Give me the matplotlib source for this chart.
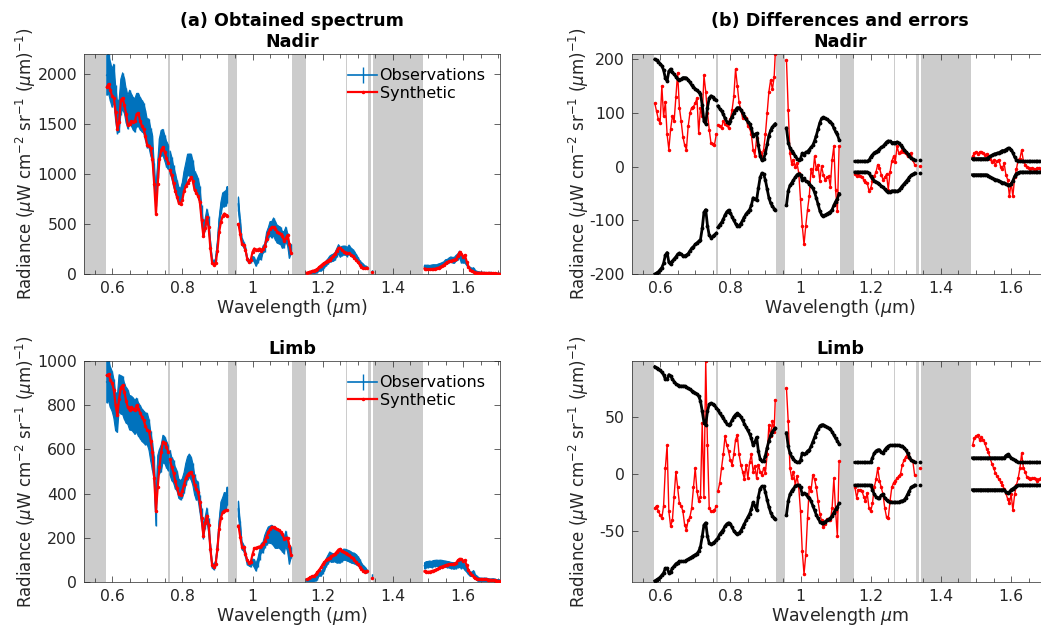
import numpy as np
import matplotlib
matplotlib.use("Agg")
import matplotlib.pyplot as plt
from matplotlib.ticker import MultipleLocator, FuncFormatter

nan = np.nan

# wavelength samples (um); nan marks the gaps between the fitted windows
wavelength = [
    0.585, 0.590, 0.595, 0.600, 0.605, 0.610, 0.615, 0.620, 0.625, 0.630,
    0.635, 0.640, 0.645, 0.650, 0.655, 0.660, 0.665, 0.670, 0.675, 0.680,
    0.685, 0.690, 0.695, 0.700, 0.705, 0.710, 0.715, 0.720, 0.725, 0.730,
    0.735, 0.740, 0.745, 0.750, 0.755, 0.760, nan,
    0.765, 0.770, 0.775, 0.780, 0.785, 0.790, 0.795, 0.800, 0.805, 0.810,
    0.815, 0.820, 0.825, 0.830, 0.835, 0.840, 0.845, 0.850, 0.855, 0.860,
    0.865, 0.870, 0.875, 0.880, 0.885, 0.890, 0.895, 0.900, 0.905, 0.910,
    0.915, 0.920, 0.925, 0.928, nan,
    0.960, 0.965, 0.970, 0.975, 0.980, 0.985, 0.990, 0.995, 1.000, 1.005,
    1.010, 1.015, 1.020, 1.025, 1.030, 1.035, 1.040, 1.045, 1.050, 1.055,
    1.060, 1.065, 1.070, 1.075, 1.080, 1.085, 1.090, 1.095, 1.100, 1.105,
    1.110, nan,
    1.155, 1.160, 1.165, 1.170, 1.175, 1.180, 1.185, 1.190, 1.195, 1.200,
    1.205, 1.210, 1.215, 1.220, 1.225, 1.230, 1.235, 1.240, 1.245, 1.250,
    1.255, 1.260, 1.265, 1.270, 1.275, 1.280, 1.285, 1.290, 1.295, 1.300,
    1.305, 1.310, 1.315, 1.320, 1.325, nan,
    1.340, nan,
    1.490, 1.495, 1.500, 1.505, 1.510, 1.515, 1.520, 1.525, 1.530, 1.535,
    1.540, 1.545, 1.550, 1.555, 1.560, 1.565, 1.570, 1.575, 1.580, 1.585,
    1.590, 1.595, 1.600, 1.605, 1.610, 1.615, 1.620, 1.625, 1.630, 1.635,
    1.640, 1.645, 1.650, 1.655, 1.660, 1.665, 1.670, 1.675, 1.680, 1.685,
    1.690, 1.695, 1.700, 1.705,
]

# Nadir: synthetic radiance, observation - synthetic, observation error
nadir_synth = [
    1870, 1900, 1840, 1780, 1760, 1620, 1450, 1520, 1740, 1760,
    1690, 1600, 1490, 1500, 1530, 1520, 1530, 1600, 1610, 1530,
    1480, 1450, 1380, 1290, 1280, 1260, 1150, 900, 600, 900,
    1150, 1240, 1270, 1220, 1160, 1110, nan,
    1040, 990, 910, 830, 770, 710, 700, 740, 830, 880,
    910, 940, 970, 930, 840, 810, 780, 720, 540, 380,
    460, 570, 470, 260, 110, 90, 110, 230, 420, 520,
    580, 605, 590, 585, nan,
    500, 400, 300, 290, 240, 150, 120, 140, 220, 255,
    245, 245, 255, 230, 250, 280, 350, 410, 450, 470,
    470, 450, 425, 410, 400, 380, 330, 360, 390, 300,
    210, nan,
    13, 18, 23, 30, 35, 42, 52, 70, 85, 100,
    112, 125, 135, 145, 160, 178, 200, 232, 262, 260,
    240, 225, 215, 210, 206, 195, 180, 162, 140, 118,
    95, 75, 62, 56, 62, nan,
    25, nan,
    55, 48, 46, 46, 48, 50, 52, 56, 62, 70,
    80, 92, 108, 118, 126, 132, 138, 142, 150, 185,
    220, 200, 172, 190, 125, 75, 45, 32, 22, 15,
    13, 12, 12, 11, 10, 10, 10, 10, 9, 8,
    7, 5, 4, 3,
]
nadir_diff = [
    118, 103, 88, 81, 150, 94, 120, 60, 32, 70,
    94, 85, 130, 175, 110, 85, 56, 40, 32, 75,
    100, 110, 112, 118, 128, 63, 109, 94, 170, 140,
    100, 69, 44, 42, 41, 60, nan,
    78, 75, 72, 85, 80, 78, 72, 88, 105, 131,
    182, 150, 120, 106, 91, 95, 91, 75, 72, 60,
    32, 20, 53, 40, 28, 20, 32, 60, 100, 140,
    162, 144, 168, 210, nan,
    199, 106, 25, 5, 13, 0, 7, -12, -60, -110,
    -145, -110, -80, -55, -5, -18, 19, -5, 4, -27,
    1, -15, -24, -20, -18, -37, 13, 38, -43, -83,
    38, nan,
    -14, -18, -15, -18, -20, -24, -28, -30, -45, -40,
    -27, -18, -10, 4, -2, -15, -24, -20, -14, -43,
    -10, 10, 19, 9, 38, 25, 28, 31, 28, 25,
    19, 22, 25, 13, 4, nan,
    2, nan,
    19, 25, 28, 24, 27, 28, 26, 22, 24, 19,
    15, 9, 12, 4, 10, 13, 0, -5, 7, -15,
    -24, -55, -30, -55, -20, -5, 13, 15, 31, 10,
    4, 0, -2, -4, -2, -5, -5, -3, -2, -4,
    -6, -5, -4, -5,
]
nadir_err = [
    200, 198, 196, 192, 188, 180, 165, 160, 178, 182,
    176, 172, 168, 163, 161, 163, 166, 166, 165, 162,
    157, 152, 149, 145, 142, 139, 136, 115, 85, 80,
    110, 128, 132, 130, 127, 124, nan,
    113, 108, 104, 98, 90, 84, 81, 86, 93, 100,
    106, 110, 110, 106, 100, 94, 88, 84, 80, 72,
    58, 60, 62, 40, 20, 12, 14, 25, 42, 58,
    68, 74, 78, 80, nan,
    72, 45, 35, 30, 25, 20, 15, 13, 15, 25,
    22, 27, 28, 32, 36, 40, 48, 58, 70, 82,
    90, 92, 90, 88, 86, 84, 80, 72, 65, 60,
    50, nan,
    10, 10, 10, 10, 10, 10, 10, 10, 12, 18,
    22, 26, 28, 30, 33, 36, 38, 42, 46, 48,
    47, 45, 45, 45, 46, 44, 40, 36, 32, 28,
    24, 20, 16, 14, 12, nan,
    12, nan,
    15, 15, 15, 15, 15, 15, 15, 15, 15, 17,
    19, 21, 23, 24, 25, 26, 28, 30, 30, 32,
    34, 34, 32, 26, 18, 13, 11, 10, 10, 10,
    10, 10, 10, 10, 10, 10, 10, 10, 10, 10,
    10, 10, 10, 10,
]

# Limb
limb_synth = [
    935, 940, 915, 900, 870, 800, 755, 830, 880, 890,
    860, 820, 790, 778, 790, 785, 778, 800, 785, 765,
    748, 732, 705, 688, 683, 640, 590, 470, 320, 430,
    520, 590, 635, 630, 610, 590, nan,
    555, 520, 495, 455, 425, 398, 395, 412, 440, 470,
    485, 492, 498, 480, 440, 420, 405, 360, 290, 210,
    265, 300, 260, 150, 75, 68, 80, 150, 240, 290,
    315, 322, 326, 325, nan,
    255, 205, 160, 158, 125, 100, 85, 90, 125, 152,
    155, 158, 160, 165, 172, 185, 205, 225, 238, 250,
    248, 243, 238, 235, 228, 218, 195, 200, 200, 165,
    122, nan,
    12, 16, 21, 25, 28, 34, 45, 55, 66, 80,
    90, 100, 106, 110, 116, 121, 128, 137, 147, 150,
    141, 136, 131, 126, 121, 115, 108, 99, 90, 80,
    70, 59, 52, 47, 50, nan,
    20, nan,
    48, 47, 46, 47, 49, 51, 54, 58, 62, 66,
    70, 73, 76, 78, 80, 80, 81, 83, 87, 98,
    105, 103, 96, 98, 75, 55, 40, 30, 24, 18,
    15, 12, 12, 12, 12, 12, 11, 10, 9, 9,
    8, 6, 5, 4,
]
limb_diff = [
    -30, -28, -33, -36, -39, -28, 5, 25, -33, -46,
    -41, -20, 2, -12, -26, -28, -33, -45, -49, -41,
    -38, -30, -12, 5, -15, -24, -20, 45, -20, 99,
    25, -30, -33, -33, -32, -28, nan,
    -15, -8, 5, 17, 33, 25, 20, 12, 8, 17,
    30, 34, 17, 8, 2, -5, 8, -4, 10, 17,
    2, 7, -4, 8, 2, -1, 5, 1, 17, 43,
    33, 46, 37, 65, nan,
    75, 46, 5, -4, 2, -10, -2, -12, -33, -68,
    -88, -71, -39, -12, -15, -1, -5, -12, -24, -35,
    -41, -47, -44, -40, -41, -41, -30, -4, -33, -55,
    11, nan,
    -12, -21, -14, -14, -15, -20, -24, -17, -30, -33,
    -26, -12, -5, 5, -6, -12, -18, -30, -38, -39,
    -24, -12, -8, -6, -4, -2, 0, 8, 12, 15,
    17, 14, 12, 11, -1, nan,
    5, nan,
    25, 31, 33, 34, 30, 32, 30, 27, 22, 19,
    14, 9, 5, 1, -2, -5, -7, -10, -13, -17,
    -22, -26, -18, -32, -18, -10, -4, 5, 18, 5,
    2, -3, -4, -5, -4, -4, -5, -6, -5, -4,
    -4, -5, -4, -4,
]
limb_err = [
    94, 93, 92, 91, 89, 87, 83, 83, 87, 86,
    83, 81, 79, 78, 77, 77, 77, 77, 76, 75,
    74, 73, 72, 71, 70, 68, 64, 55, 45, 43,
    55, 61, 62, 61, 60, 58, nan,
    56, 53, 51, 49, 46, 44, 43, 44, 47, 50,
    52, 53, 52, 50, 47, 44, 41, 38, 35, 31,
    25, 28, 32, 20, 13, 11, 11, 16, 23, 29,
    34, 37, 39, 40, nan,
    36, 24, 18, 15, 13, 11, 10, 10, 12, 18,
    17, 18, 20, 21, 24, 28, 32, 36, 39, 42,
    43, 43, 42, 41, 40, 39, 37, 34, 31, 29,
    26, nan,
    10, 10, 10, 10, 10, 10, 10, 10, 10, 10,
    14, 18, 20, 21, 21, 19, 18, 21, 23, 24,
    25, 25, 25, 25, 25, 25, 24, 24, 23, 21,
    18, 15, 12, 11, 10, nan,
    10, nan,
    14, 14, 14, 14, 14, 14, 14, 14, 14, 14,
    14, 14, 14, 14, 14, 14, 14, 14, 14, 16,
    17, 16, 14, 13, 12, 11, 10, 10, 10, 10,
    10, 10, 10, 10, 10, 10, 10, 10, 10, 10,
    10, 10, 10, 10,
]

# spectral windows excluded from the fit (um)
masked_bands = [(0.50, 0.582), (0.7586, 0.7643), (0.9295, 0.9545), (1.1128, 1.1518),
                (1.2675, 1.2700), (1.3293, 1.3379), (1.3440, 1.4850)]

BLUE = "#0072BD"
RED = "#FF0000"
GRAY = "#CCCCCC"
AXC = "#262626"

plt.rcParams["font.family"] = "DejaVu Sans"
plt.rcParams["mathtext.fontset"] = "dejavusans"
plt.rcParams["axes.unicode_minus"] = False

wl = np.array(wavelength)
fig = plt.figure(figsize=(10.41, 6.29), dpi=100)

W, H = 1041, 629
def axes_px(x0, y0, x1, y1):
    return fig.add_axes([x0 / W, 1 - y1 / H, (x1 - x0) / W, (y1 - y0) / H])

ax_a1 = axes_px(84, 54, 500, 274)
ax_a2 = axes_px(84, 361, 500, 582)
ax_b1 = axes_px(632, 54, 1048, 274)
ax_b2 = axes_px(632, 361, 1048, 582)

ylab = r"Radiance ($\mu$W cm$^{-2}$ sr$^{-1}$ ($\mu$m)$^{-1}$)"
fmt = FuncFormatter(lambda v, p: "%g" % round(v, 6))


def style(ax, ylim, ystep, title, xlabel, ylab_x):
    for lo, hi in masked_bands:
        ax.axvspan(lo, hi, color=GRAY, lw=0, zorder=0)
    ax.set_xlim(0.52, 1.705)
    ax.set_ylim(*ylim)
    ax.xaxis.set_major_locator(MultipleLocator(0.2))
    ax.xaxis.set_minor_locator(MultipleLocator(0.05))
    ax.yaxis.set_major_locator(MultipleLocator(ystep))
    ax.xaxis.set_major_formatter(fmt)
    ax.yaxis.set_major_formatter(fmt)
    ax.tick_params(which="both", direction="in", top=True, right=True,
                   color=AXC, labelcolor=AXC, labelsize=11.3, width=0.5)
    ax.tick_params(which="major", length=4, pad=5)
    ax.tick_params(which="minor", length=3)
    for s in ax.spines.values():
        s.set_color(AXC)
        s.set_linewidth(0.5)
    ax.set_title(title, fontsize=12.6, fontweight="bold", pad=5, linespacing=1.25)
    ax.set_xlabel(xlabel, fontsize=12.5, color=AXC, labelpad=1)
    ax.set_ylabel(ylab, fontsize=12, color=AXC)
    ax.yaxis.set_label_coords(ylab_x, 0.5)


def spectrum(ax, synth, diff, err):
    synth = np.array(synth, float)
    err = np.array(err, float)
    obs = synth + np.array(diff, float)
    ax.fill_between(wl, obs - err, obs + err, color=BLUE, lw=0.8, zorder=2)
    eb = ax.errorbar(wl, obs, yerr=err, color=BLUE, lw=1.2, elinewidth=1.0, capsize=0,
                     zorder=2)
    ln, = ax.plot(wl, synth, color=RED, lw=1.6, marker=".", ms=3, zorder=3)
    ax.legend([eb, ln], ["Observations", "Synthetic"], loc="upper right", frameon=False,
              fontsize=11.5, handlelength=1.8, handletextpad=0.15, labelspacing=0.15,
              borderaxespad=0.5)


def differences(ax, diff, err):
    err = np.array(err, float)
    ax.plot(wl, diff, color=RED, lw=1.0, marker=".", ms=3, zorder=2)
    ax.plot(wl, err, color="black", lw=2.0, marker=".", ms=3.5, zorder=3)
    ax.plot(wl, -err, color="black", lw=2.0, marker=".", ms=3.5, zorder=3)


spectrum(ax_a1, nadir_synth, nadir_diff, nadir_err)
style(ax_a1, (0, 2200), 500, "(a) Obtained spectrum\nNadir", r"Wavelength ($\mu$m)", -0.111)
spectrum(ax_a2, limb_synth, limb_diff, limb_err)
style(ax_a2, (0, 1000), 200, "Limb", r"Wavelength ($\mu$m)", -0.111)

differences(ax_b1, nadir_diff, nadir_err)
style(ax_b1, (-200, 210), 100, "(b) Differences and errors\nNadir", r"Wavelength ($\mu$m)", -0.098)
differences(ax_b2, limb_diff, limb_err)
style(ax_b2, (-95, 99), 50, "Limb", r"Wavelength $\mu$m", -0.098)

fig.savefig("out.png", dpi=100)
